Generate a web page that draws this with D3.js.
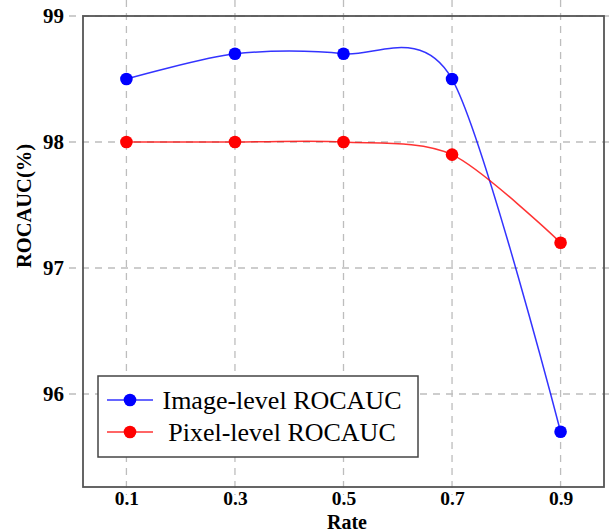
<!DOCTYPE html>
<html>
<head>
<meta charset="utf-8">
<script src="https://cdn.jsdelivr.net/npm/d3@7"></script>
<style>
  body { margin: 0; background: #fff; }
  text { font-family: "Liberation Serif", "Times New Roman", serif; }
</style>
</head>
<body>
<script>
var rates = [0.1, 0.3, 0.5, 0.7, 0.9];
var imageLevel = [98.5, 98.7, 98.7, 98.5, 95.7];
var pixelLevel = [98.0, 98.0, 98.0, 97.9, 97.2];
var yTicks = [96, 97, 98, 99];
var seriesNames = ["Image-level ROCAUC", "Pixel-level ROCAUC"];
var seriesColors = ["#0000ff", "#ff0000"];

var width = 614, height = 532;
var m = { left: 83, right: 604, top: 16, bottom: 487 };

var svg = d3.select(document.body).append("svg")
  .attr("width", width)
  .attr("height", height);

var x = d3.scaleLinear().domain([0.02, 0.98]).range([m.left, m.right]);
var y = d3.scaleLinear().domain([95.262, 99]).range([m.bottom, m.top]);

// grid
var grid = svg.append("g")
  .attr("stroke", "#bdbdbd")
  .attr("stroke-width", 1.3)
  .attr("stroke-dasharray", "7,6");
grid.selectAll("line.v").data(rates).enter().append("line")
  .attr("x1", function(d) { return x(d); })
  .attr("x2", function(d) { return x(d); })
  .attr("y1", 0)
  .attr("y2", m.bottom + 8);
grid.selectAll("line.h").data(yTicks).enter().append("line")
  .attr("x1", m.left - 14)
  .attr("x2", width)
  .attr("y1", function(d) { return y(d); })
  .attr("y2", function(d) { return y(d); });

// frame
svg.append("rect")
  .attr("x", m.left).attr("y", m.top)
  .attr("width", m.right - m.left).attr("height", m.bottom - m.top)
  .attr("fill", "none")
  .attr("stroke", "#555")
  .attr("stroke-width", 1.8);

// tick labels
var xAxis = d3.axisBottom(x).tickValues(rates).tickSize(0).tickFormat(d3.format(".1f"));
var gx = svg.append("g").attr("transform", "translate(0," + (m.bottom + 1.5) + ")").call(xAxis);
gx.select(".domain").remove();
gx.selectAll("text")
  .attr("font-size", 19.5).attr("font-weight", "bold").attr("fill", "#000")
  .attr("font-family", "Liberation Serif");

var yAxis = d3.axisLeft(y).tickValues(yTicks).tickSize(0).tickFormat(d3.format("d"));
var gy = svg.append("g").attr("transform", "translate(" + (m.left - 16) + ",0)").call(yAxis);
gy.select(".domain").remove();
gy.selectAll("text")
  .attr("font-size", 21).attr("font-weight", "bold").attr("fill", "#000")
  .attr("font-family", "Liberation Serif");

// axis titles
svg.append("text")
  .attr("x", 347).attr("y", 529)
  .attr("text-anchor", "middle")
  .attr("font-size", 20).attr("font-weight", "bold")
  .text("Rate");
svg.append("text")
  .attr("transform", "translate(31,206) rotate(-90)")
  .attr("text-anchor", "middle")
  .attr("font-size", 20.5).attr("font-weight", "bold")
  .text("ROCAUC(%)");

// series
var line = d3.line()
  .x(function(d) { return x(d[0]); })
  .y(function(d) { return y(d[1]); })
  .curve(d3.curveCardinal.tension(0.15));

[imageLevel, pixelLevel].forEach(function(vals, i) {
  var pts = rates.map(function(r, j) { return [r, vals[j]]; });
  svg.append("path")
    .attr("d", line(pts))
    .attr("fill", "none")
    .attr("stroke", seriesColors[i])
    .attr("stroke-opacity", 0.8)
    .attr("stroke-width", 1.5);
  svg.selectAll("circle.s" + i).data(pts).enter().append("circle")
    .attr("cx", function(d) { return x(d[0]); })
    .attr("cy", function(d) { return y(d[1]); })
    .attr("r", 6.3)
    .attr("fill", seriesColors[i]);
});

// legend
var legend = svg.append("g");
legend.append("rect")
  .attr("x", 98).attr("y", 376)
  .attr("width", 320).attr("height", 81)
  .attr("fill", "#fff")
  .attr("stroke", "#444")
  .attr("stroke-width", 1.5);
seriesNames.forEach(function(name, i) {
  var ly = 400 + i * 32;
  legend.append("line")
    .attr("x1", 107).attr("x2", 153)
    .attr("y1", ly).attr("y2", ly)
    .attr("stroke", seriesColors[i])
    .attr("stroke-opacity", 0.8)
    .attr("stroke-width", 1.5);
  legend.append("circle")
    .attr("cx", 130).attr("cy", ly).attr("r", 6.3)
    .attr("fill", seriesColors[i]);
  legend.append("text")
    .attr("x", 282).attr("y", ly + 9)
    .attr("text-anchor", "middle")
    .attr("font-size", 26)
    .text(name);
});
</script>
</body>
</html>
